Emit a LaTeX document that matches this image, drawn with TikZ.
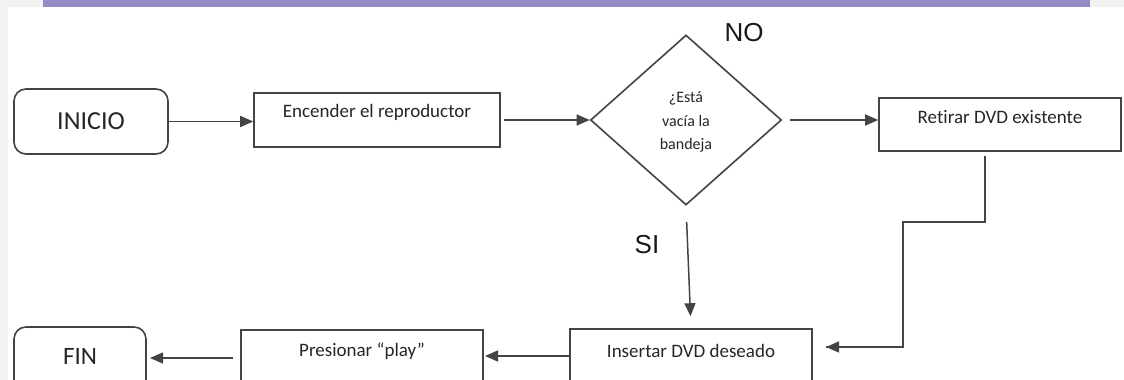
\documentclass[tikz,border=0pt]{standalone}
\usepackage{fontspec}
\setmainfont[Ligatures={NoCommon}]{Carlito}
\newfontfamily\arialfont{Liberation Sans}
\usetikzlibrary{shapes.geometric,arrows.meta}
\definecolor{bggray}{HTML}{F2F2F2}
\definecolor{bandpurple}{HTML}{968AC4}
\definecolor{linegray}{HTML}{444444}
\definecolor{txtgray}{HTML}{262626}
\begin{document}
\begin{tikzpicture}[x=1pt,y=-1pt,
  boxshape/.style={draw=linegray, line width=1.6pt, fill=white, inner sep=0pt},
  roundbox/.style={boxshape, rounded corners=12pt},
  boxtext/.style={text=txtgray, font=\fontsize{19}{22}\selectfont, inner sep=0pt, anchor=center},
  flow/.style={draw=linegray, line width=1.5pt, -{Triangle[length=13pt,width=11pt]}},
  plainline/.style={draw=linegray, line width=1.5pt},
  bigtext/.style={font=\arialfont\fontsize{26}{30}\selectfont, text=black!90, inner sep=0pt}
]
% background
\fill[bggray] (0,0) rectangle (1124,380);
\fill[white] (8,7) rectangle (1124,380);
\fill[bandpurple] (43,0) rectangle (1090,7);
\useasboundingbox (0,0) rectangle (1124,380);

\begin{scope}
\clip (0,0) rectangle (1124,380);
% top row
\node[roundbox, minimum width=154pt, minimum height=65pt] (ini) at (91,121.5) {};
\node[text=txtgray, font=\fontsize{26}{30}\selectfont, inner sep=0pt] (init) at (91,121.5) {INICIO};

\node[boxshape, minimum width=246pt, minimum height=54pt] (enc) at (377,120) {};
\node[boxtext] (enct) at (377,112) {Encender el reproductor};

\node[boxshape, diamond, minimum width=191pt, minimum height=170pt, aspect=1.12] (dia) at (686,120) {};
\node[text=txtgray, font=\fontsize{16}{23.5}\selectfont, align=center, inner sep=0pt] (diat) at (686,122) {¿Está\\vacía la\\bandeja};

\node[boxshape, minimum width=242pt, minimum height=53pt] (ret) at (1000,124.5) {};
\node[boxtext] (rett) at (1000,117) {Retirar DVD existente};

% bottom row
\node[boxshape, minimum width=242pt, minimum height=80pt] (ins) at (691,369) {};
\node[boxtext] (inst) at (691,351) {Insertar DVD deseado};

\node[boxshape, minimum width=242pt, minimum height=80pt] (pre) at (362,370) {};
\node[boxtext] (pret) at (362,351) {Presionar “play”};

\node[roundbox, minimum width=132pt, minimum height=90pt] (fin) at (80,372) {};
\node[text=txtgray, font=\fontsize{25}{30}\selectfont, inner sep=0pt] (fint) at (80,356) {FIN};

% labels
\node[bigtext] (no) at (744,33) {NO};
\node[bigtext] (si) at (647,245) {SI};

% connectors
\draw[flow] (ini.east) -- (ini.east -| enc.west);
\draw[flow, shorten <=3pt] (enc.east) -- (dia.west);
\draw[flow, shorten <=8pt] (dia.east) -- (dia.east -| ret.west);

\coordinate (r1) at (985,151);
\coordinate (r2) at (985,222);
\coordinate (r3) at (903,222);
\coordinate (r4) at (903,347);
\coordinate (r5) at (826,347);
\draw[plainline, shorten <=5pt] (r1) -- (r2) -- (r3) -- (r4) -- (r5);
\draw[flow] (r4) -- (r5);

\draw[flow, shorten <=16pt, shorten >=12pt] (dia.south) -- (ins.north);

\coordinate (a1) at (570,356);
\coordinate (a2) at (485,356);
\draw[flow] (a1) -- (a2);
\coordinate (b1) at (233,358);
\coordinate (b2) at (150,358);
\draw[flow] (b1) -- (b2);
\end{scope}
\end{tikzpicture}
\end{document}
